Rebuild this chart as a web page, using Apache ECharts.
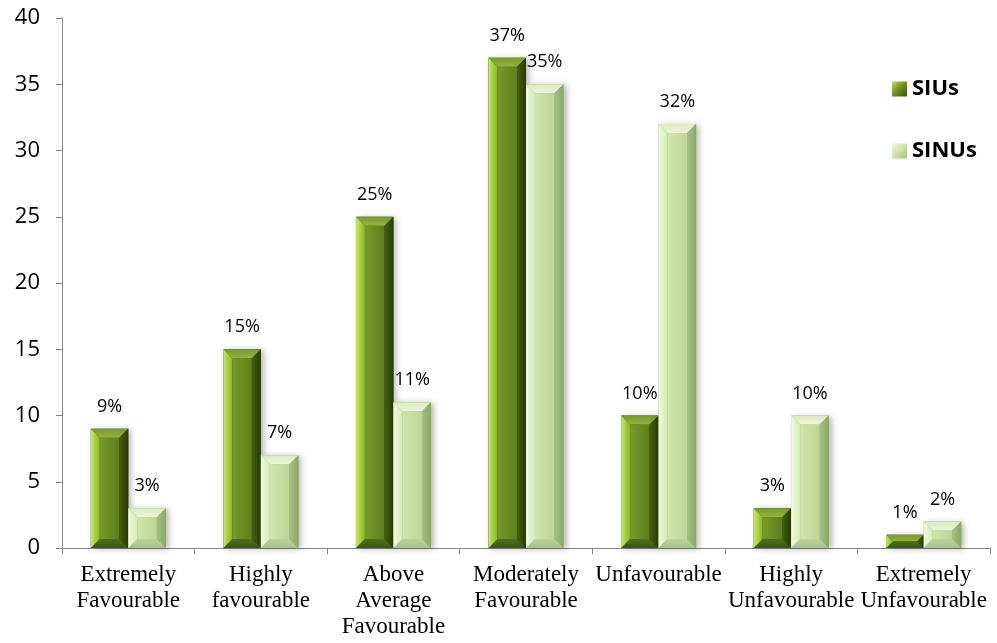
<!DOCTYPE html>
<html>
<head>
<meta charset="utf-8">
<script src="https://cdn.jsdelivr.net/npm/echarts@6/dist/echarts.min.js"></script>
<style>
  html, body { margin: 0; padding: 0; background: #fff; }
  #chart { width: 997px; height: 643px; }
</style>
</head>
<body>
<div id="chart"></div>
<script>
// Survey responses by category (percent)
const categories = [
  'Extremely\nFavourable',
  'Highly\nfavourable',
  'Above\nAverage\nFavourable',
  'Moderately\nFavourable',
  'Unfavourable',
  'Highly\nUnfavourable',
  'Extremely\nUnfavourable'
];
const seriesNames = ['SIUs', 'SINUs'];
const siuValues = [9, 15, 25, 37, 10, 3, 1];
const sinuValues = [3, 7, 11, 35, 32, 10, 2];

// Facet colours for the bevelled bars: [outer edge, inner edge]
const palettes = [
  { top: ['#7a9830', '#94b43e'], left: ['#c4ec54', '#8cb232'], center: ['#769a2a', '#5f7e1e'],
    right: ['#45600f', '#283a08'], bottom: ['#3a5410', '#50701a'] },
  { top: ['#dceac2', '#eaf6d6'], left: ['#f0fade', '#d4eab2'], center: ['#d0e4ac', '#bfd698'],
    right: ['#a6c284', '#88a664'], bottom: ['#a8c088', '#bcd49c'] }
];

const BAR_RATIO = 0.283;

function grad(x0, y0, x1, y1, c) {
  return new echarts.graphic.LinearGradient(x0, y0, x1, y1, [
    { offset: 0, color: c[0] }, { offset: 1, color: c[1] }]);
}

function makeRenderer(seriesIdx) {
  const pal = palettes[seriesIdx];
  return function (params, api) {
    const idx = api.value(0);
    const val = api.value(1);
    const base = api.coord([idx, 0]);
    const top = api.coord([idx, val]);
    const band = api.size([1, 0])[0];
    const bw = band * BAR_RATIO;
    const x0 = seriesIdx === 0 ? base[0] - bw : base[0];
    const x1 = x0 + bw;
    const y0 = top[1];
    const y1 = base[1];
    const h = y1 - y0;
    const b = Math.min(9, h / 2, bw / 2);
    const poly = (pts, fill) => ({ type: 'polygon', shape: { points: pts }, style: { fill: fill } });
    return {
      type: 'group',
      children: [
        { type: 'rect', shape: { x: x0, y: y0, width: bw, height: h },
          style: { fill: pal.right[1], shadowBlur: 6, shadowOffsetX: 3, shadowOffsetY: 1, shadowColor: 'rgba(0,0,0,0.28)' } },
        { type: 'rect', shape: { x: x0 + b, y: y0 + b, width: Math.max(bw - 2 * b, 0), height: Math.max(h - 2 * b, 0) },
          style: { fill: grad(0, 0, 1, 0, pal.center) } },
        poly([[x0, y0], [x1, y0], [x1 - b, y0 + b], [x0 + b, y0 + b]], grad(0, 0, 0, 1, pal.top)),
        poly([[x0, y1], [x1, y1], [x1 - b, y1 - b], [x0 + b, y1 - b]], grad(0, 1, 0, 0, pal.bottom)),
        poly([[x0, y0], [x0 + b, y0 + b], [x0 + b, y1 - b], [x0, y1]], grad(0, 0, 1, 0, pal.left)),
        poly([[x1, y0], [x1 - b, y0 + b], [x1 - b, y1 - b], [x1, y1]], grad(0, 0, 1, 0, pal.right)),
        { type: 'text', x: (x0 + x1) / 2, y: y0 - 13,
          style: { text: val + '%', align: 'center', verticalAlign: 'bottom',
                   fill: '#000', font: '18px "Open Sans"' } }
      ]
    };
  };
}

function toData(values) {
  return values.map((v, i) => [i, v]);
}

const legendColors = [
  new echarts.graphic.LinearGradient(0, 0, 1, 1, [
    { offset: 0, color: '#b8e04c' }, { offset: 0.5, color: '#6f8f24' }, { offset: 1, color: '#3b5410' }]),
  new echarts.graphic.LinearGradient(0, 0, 1, 1, [
    { offset: 0, color: '#f2fadf' }, { offset: 0.5, color: '#cfe2aa' }, { offset: 1, color: '#a4be80' }])
];

const chart = echarts.init(document.getElementById('chart'), null, { renderer: 'canvas' });
chart.setOption({
  animation: false,
  backgroundColor: '#ffffff',
  grid: { left: 62, right: 7, top: 18, bottom: 95, containLabel: false },
  legend: {
    orient: 'vertical',
    left: 887,
    top: 73,
    itemWidth: 15,
    itemHeight: 15,
    itemGap: 40,
    icon: 'rect',
    textStyle: { fontFamily: 'Open Sans', fontWeight: 'bold', fontSize: 22, color: '#000' },
    data: seriesNames
  },
  xAxis: {
    type: 'category',
    data: categories,
    boundaryGap: true,
    axisLine: { lineStyle: { color: '#868686', width: 1 } },
    axisTick: { show: true, length: 6, lineStyle: { color: '#868686' } },
    axisLabel: {
      interval: 0,
      margin: 14,
      fontFamily: 'Liberation Serif',
      fontSize: 23,
      lineHeight: 26,
      color: '#000'
    },
    splitLine: { show: false }
  },
  yAxis: {
    type: 'value',
    min: 0,
    max: 40,
    interval: 5,
    axisLine: { show: true, lineStyle: { color: '#868686', width: 1 } },
    axisTick: { show: true, length: 6, lineStyle: { color: '#868686' } },
    axisLabel: { margin: 22, fontFamily: 'Open Sans', fontSize: 22, color: '#000' },
    splitLine: { show: false }
  },
  series: [
    { name: seriesNames[0], type: 'custom', renderItem: makeRenderer(0),
      itemStyle: { color: legendColors[0] },
      encode: { x: 0, y: 1 }, data: toData(siuValues) },
    { name: seriesNames[1], type: 'custom', renderItem: makeRenderer(1),
      itemStyle: { color: legendColors[1] },
      encode: { x: 0, y: 1 }, data: toData(sinuValues) }
  ]
});
</script>
</body>
</html>
